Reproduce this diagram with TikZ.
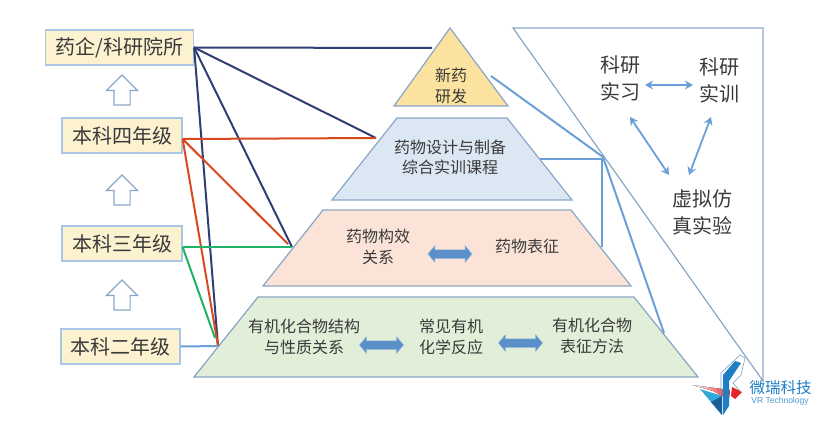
\documentclass[tikz,border=0pt]{standalone}
\usepackage{fontspec}
\setmainfont{Noto Sans CJK SC}
\setsansfont{Liberation Sans}
\usetikzlibrary{shapes.arrows,arrows.meta,calc}

\definecolor{navyLine}{HTML}{2F3F73}
\definecolor{redLine}{HTML}{D9491E}
\definecolor{greenLine}{HTML}{1FB368}
\definecolor{blueLine}{HTML}{6A9FD8}
\definecolor{edgeBlue}{HTML}{8AA6C6}
\definecolor{gradeEdge}{HTML}{A9C6E4}
\definecolor{gradeFill}{HTML}{FDF2D0}
\definecolor{textGray}{HTML}{3A3A3A}
\definecolor{tierGold}{HTML}{FBE29F}
\definecolor{tierBlue}{HTML}{DCE7F4}
\definecolor{tierPeach}{HTML}{FBE4D7}
\definecolor{tierGreen}{HTML}{E1EFD9}
\definecolor{fatBlue}{HTML}{5B8FC9}
\definecolor{logoCyan}{HTML}{2FA8DC}
\definecolor{logoBlue}{HTML}{1F7FC4}
\definecolor{logoDark}{HTML}{1C5E96}
\definecolor{logoRed}{HTML}{E5262C}

\begin{document}
\begin{tikzpicture}[
    x=1pt, y=-1pt,
    >=Stealth,
    every node/.style={text=textGray},
    gradeBox/.style={
        rectangle,
        draw=gradeEdge,
        fill=gradeFill,
        line width=1.2pt,
        inner sep=0pt,
        minimum height=35pt,
        font=\fontsize{20pt}{24pt}\selectfont
    },
    tier/.style={
        draw=edgeBlue,
        line width=1.2pt,
        line join=miter
    },
    tierText/.style={
        align=center,
        inner sep=0pt,
        font=\fontsize{16pt}{20.5pt}\selectfont
    },
    sideText/.style={
        align=center,
        inner sep=0pt,
        font=\fontsize{20pt}{27pt}\selectfont
    },
    upArrow/.style={
        single arrow,
        shape border rotate=90,
        draw=edgeBlue,
        fill=white,
        line width=1.2pt,
        inner sep=7.5pt,
        minimum height=30pt,
        single arrow head extend=7.5pt,
        single arrow tip angle=90
    },
    fatArrow/.style={
        double arrow,
        draw=fatBlue!70!white,
        fill=fatBlue,
        line width=0.5pt,
        inner sep=4pt,
        minimum height=44pt,
        double arrow head extend=4pt,
        double arrow tip angle=100
    },
    linkLine/.style={line width=2pt},
    thinArrow/.style={{Stealth[length=8pt,width=9pt]}-{Stealth[length=8pt,width=9pt]}, blueLine, line width=1.8pt}
]
\useasboundingbox (0,0) rectangle (825,441);

% ==================== GRADE BOXES ====================
\node[gradeBox, minimum width=148pt] (gradeInst) at (119.5,47.5) {药企/科研院所};
\node[gradeBox, minimum width=120pt] (gradeFour) at (122,135.5) {本科四年级};
\node[gradeBox, minimum width=120pt] (gradeThree) at (122,243.5) {本科三年级};
\node[gradeBox, minimum width=119pt] (gradeTwo) at (120.5,346.5) {本科二年级};

\node[upArrow] (upOne) at (122,94) {};
\node[upArrow] (upTwo) at (122,194) {};
\node[upArrow] (upThree) at (122,299) {};

% ==================== CALLOUT ====================
\draw[tier] (513,28) -- (763,28) -- (763,381) -- cycle;

% ==================== PYRAMID ====================
\draw[tier, fill=tierGold] (450,28) -- (508,106) -- (394,106) -- cycle;
\draw[tier, fill=tierBlue] (397,118) -- (507,118) -- (572,200) -- (332,200) -- cycle;
\draw[tier, fill=tierPeach] (323,210) -- (571,210) -- (631,286) -- (263,286) -- cycle;
\draw[tier, fill=tierGreen] (258,297) -- (634,297) -- (698,377) -- (194,377) -- cycle;

\node[tierText] (tierDrug) at (451,86) {新药\\研发};
\node[tierText] (tierDesign) at (450,157.5) {药物设计与制备\\综合实训课程};
\node[tierText] (tierRelation) at (378,247) {药物构效\\关系};
\node[tierText] (tierCharacter) at (527,246) {药物表征};
\node[tierText] (tierStructure) at (304,337) {有机化合物结构\\与性质关系};
\node[tierText] (tierReaction) at (451,337) {常见有机\\化学反应};
\node[tierText] (tierMethod) at (592,336) {有机化合物\\表征方法};

\node[fatArrow] (fatOne) at (450,254) {};
\node[fatArrow] (fatTwo) at (381.5,345) {};
\node[fatArrow] (fatThree) at (520.5,343) {};

% ==================== LINK ENDS ====================
\coordinate (tipTop) at (432,48);
\coordinate (tipDesign) at (376,138);
\coordinate (tipRelation) at (292,247);
\coordinate (tipRed) at (288,244);
\coordinate (tipBase) at (218,346);
\coordinate (tipGreen) at (215,338);
\coordinate (hubRight) at (603,157);
\coordinate (tipDrug) at (491,76);
\coordinate (tipTierTwo) at (540,159);
\coordinate (tipTierThree) at (602,247);
\coordinate (tipTierFour) at (664,333);

\foreach \tip in {tipTop,tipDesign,tipRelation,tipBase}
    \draw[linkLine, navyLine] (gradeInst.east) -- (\tip);
\foreach \tip in {tipDesign,tipRed,tipBase}
    \draw[linkLine, redLine] (gradeFour.east) ++(0,3.5) -- (\tip);
\foreach \tip in {tipRelation,tipGreen}
    \draw[linkLine, greenLine] (gradeThree.east) ++(0,3.5) -- (\tip);
\draw[linkLine, blueLine] (gradeTwo.east) -- (tipBase);

\foreach \tip in {tipDrug,tipTierFour}
    \draw[linkLine, blueLine] (hubRight) -- (\tip);
\draw[linkLine, blueLine] (tipTierTwo) -| (tipTierThree);

% ==================== RIGHT PANEL ====================
\node[sideText] (sideIntern) at (620,78.5) {科研\\实习};
\node[sideText] (sideTrain) at (719,80.5) {科研\\实训};
\node[sideText] (sideVirtual) at (702,212.5) {虚拟仿\\真实验};

\draw[thinArrow] (645,85) -- (693,85);
\draw[thinArrow] (630,117) -- (669,175);
\draw[thinArrow] (711,117) -- (689,175);

% ==================== LOGO ====================
\fill[logoCyan] (700,389) -- (722,396) -- (722,415) -- cycle;
\fill[logoDark] (711,402) -- (722,396) -- (722,415) -- cycle;
\fill[left color=white, right color=logoRed] (692,385) -- (730,390) -- (729,398) -- (722,396) -- (713,391) -- cycle;
\fill[logoRed] (732,387) -- (742,392) -- (735,399) -- (731,396) -- cycle;
\fill[logoBlue] (723,415) -- (723,375) -- (735,361) -- (741,363) -- (729,381) -- (729,406) -- cycle;
\draw[logoDark!60!white, line width=0.6pt] (721,395) -- (721,373) -- (740,355) -- (745,358) -- (741,375) -- (733,383) -- (741,392);
\node[inner sep=0pt, text=logoBlue, font=\fontsize{15.5pt}{18pt}\selectfont] (logoCn) at (780.5,388) {微瑞科技};
\node[inner sep=0pt, text=logoBlue!80!white, font=\sffamily\fontsize{8.5pt}{10pt}\selectfont] (logoEn) at (780,401) {VR Technology};
\end{tikzpicture}
\end{document}
